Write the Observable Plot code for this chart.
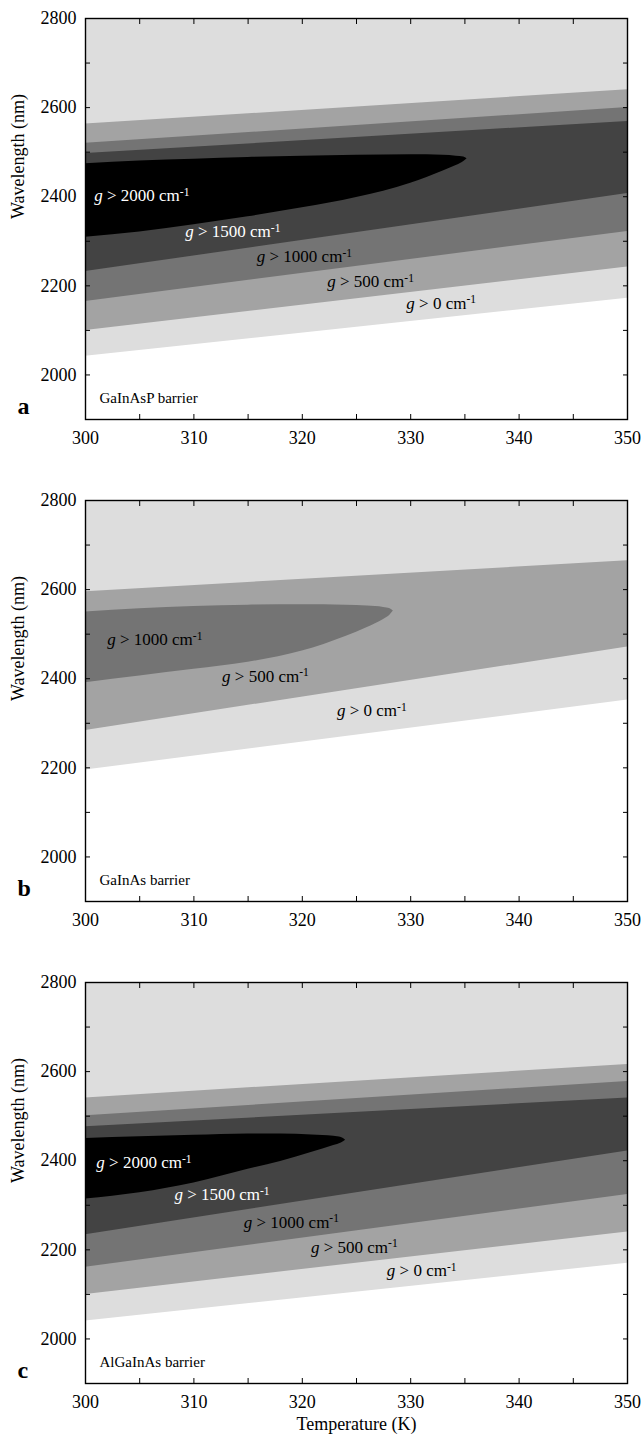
<!DOCTYPE html>
<html>
<head>
<meta charset="utf-8">
<script src="https://cdn.jsdelivr.net/npm/d3@7"></script>
<script src="https://cdn.jsdelivr.net/npm/@observablehq/plot@0.6"></script>
<style>
  body { margin: 0; background: #fff; width: 644px; }
  #chart svg { display: block; }
</style>
</head>
<body>
<div id="chart"></div>
<script>
// ---------- axes ----------
const xDomain = [300, 350];
const yDomain = [1900, 2800];
const xTicks = [300, 305, 310, 315, 320, 325, 330, 335, 340, 345, 350];
const yTicks = [1900, 2000, 2100, 2200, 2300, 2400, 2500, 2600, 2700, 2800];

// temperatures at which the straight contour edges are read (K)
const edgeT = [300, 350];

// ---------- panel a : GaInAsP barrier (wavelength in nm at 300 K, 350 K) ----------
const a_g0_lo    = [2042, 2172];
const a_g500_lo  = [2100, 2242];
const a_g500_hi  = [2563, 2640];
const a_g1000_lo = [2165, 2322];
const a_g1000_hi = [2520, 2600];
const a_g1500_lo = [2232, 2407];
const a_g1500_hi = [2497, 2569];
const a_g2000_T  = [300, 305, 310, 315, 320, 325, 330, 333, 334.2, 334.9, 335.2];
const a_g2000_lo = [2309, 2321, 2337, 2355, 2375, 2398, 2430, 2458, 2470, 2479, 2485];
const a_g2000_hi = [2474, 2480, 2484, 2488, 2491, 2493, 2494, 2493, 2491, 2489, 2485];
const a_labelLevel = [2000, 1500, 1000, 500, 0];
const a_labelT     = [300.8, 309.2, 315.8, 322.3, 329.6];
const a_labelW     = [2403, 2321, 2265, 2210, 2161];

// ---------- panel b : GaInAs barrier ----------
const b_g0_lo    = [2195, 2352];
const b_g500_lo  = [2284, 2471];
const b_g500_hi  = [2595, 2665];
const b_g1000_T  = [300, 305, 310, 315, 320, 324, 326, 327.5, 328.1, 328.4];
const b_g1000_lo = [2391, 2406, 2421, 2437, 2462, 2495, 2515, 2533, 2543, 2552];
const b_g1000_hi = [2550, 2557, 2562, 2565, 2566, 2565, 2563, 2560, 2557, 2552];
const b_labelLevel = [1000, 500, 0];
const b_labelT     = [302.0, 312.6, 323.2];
const b_labelW     = [2488, 2406, 2329];

// ---------- panel c : AlGaInAs barrier ----------
const c_g0_lo    = [2040, 2170];
const c_g500_lo  = [2100, 2240];
const c_g500_hi  = [2541, 2616];
const c_g1000_lo = [2161, 2324];
const c_g1000_hi = [2501, 2578];
const c_g1500_lo = [2234, 2422];
const c_g1500_hi = [2476, 2541];
const c_g2000_T  = [300, 305, 310, 315, 318, 320.9, 322.9, 323.6, 324.0];
const c_g2000_lo = [2314, 2328, 2350, 2381, 2398, 2419, 2434, 2440, 2446];
const c_g2000_hi = [2450, 2454, 2457, 2460, 2460, 2458, 2455, 2452, 2446];
const c_labelLevel = [2000, 1500, 1000, 500, 0];
const c_labelT     = [301.0, 308.2, 314.6, 320.8, 327.8];
const c_labelW     = [2396, 2324, 2262, 2206, 2154];

// ---------- styling ----------
const levelFill = {0: "#dddddd", 500: "#a3a3a3", 1000: "#747474", 1500: "#434343", 2000: "#000000"};
const FONT = "'Liberation Serif', 'Times New Roman', Times, serif";

function rows(T, lo, hi) {
  return T.map((t, i) => ({t, lo: lo[i], hi: hi == null ? yDomain[1] : hi[i]}));
}

function panel(cfg) {
  const marks = [];
  for (const b of cfg.bands) {
    marks.push(Plot.areaY(rows(b.T || edgeT, b.lo, b.hi), {x: "t", y1: "lo", y2: "hi", fill: levelFill[b.level], curve: b.T ? "monotone-x" : "linear"}));
  }
  marks.push(Plot.frame({stroke: "black", strokeWidth: 1.4}));
  marks.push(Plot.axisX({anchor: "bottom", ticks: xTicks, tickSize: -5, tickPadding: 17,
    tickFormat: d => (d % 10 === 0 ? String(d) : ""), fontSize: 18, label: null}));
  marks.push(Plot.axisX({anchor: "top", ticks: xTicks, tickSize: -5, tickFormat: () => "", label: null}));
  marks.push(Plot.axisY({anchor: "left", ticks: yTicks, tickSize: -5, tickPadding: 14,
    tickFormat: d => (d % 200 === 0 ? String(d) : ""), fontSize: 18, label: null}));
  marks.push(Plot.axisY({anchor: "right", ticks: yTicks, tickSize: -5, tickFormat: () => "", label: null}));

  const labs = cfg.labelLevel.map((lv, i) => ({lv, t: cfg.labelT[i], w: cfg.labelW[i]}));
  marks.push(Plot.text(labs, {x: "t", y: "w", text: d => `g > ${d.lv} cm-1`, textAnchor: "start",
    fill: d => (d.lv >= 1500 ? "white" : "black"), fontSize: 17}));

  marks.push(Plot.text([cfg.barrier], {text: d => d, frameAnchor: "bottom-left", dx: 14, dy: -17, textAnchor: "start", fontSize: 15}));
  marks.push(Plot.text([cfg.letter], {text: d => d, frameAnchor: "bottom-left", dx: -68, dy: -6, fontSize: 24, fontWeight: "bold"}));
  marks.push(Plot.text(["Wavelength (nm)"], {text: d => d, frameAnchor: "left", dx: -67, rotate: -90, fontSize: 18}));
  if (cfg.last) {
    marks.push(Plot.text(["Temperature (K)"], {text: d => d, frameAnchor: "bottom", dy: 46, fontSize: 18}));
  }

  const svg = Plot.plot({
    width: 644,
    height: cfg.last ? 477 : 482,
    marginTop: 18,
    marginLeft: 85,
    marginRight: 17,
    marginBottom: cfg.last ? 58 : 63,
    x: {domain: xDomain},
    y: {domain: yDomain},
    style: {fontFamily: FONT, background: "white", color: "black", overflow: "visible"},
    marks
  });

  // italic g and superscript -1 in the contour labels
  const NS = "http://www.w3.org/2000/svg";
  svg.querySelectorAll("text").forEach(t => {
    const m = /^g > (\d+) cm-1$/.exec(t.textContent);
    if (!m) return;
    t.textContent = "";
    const g = document.createElementNS(NS, "tspan");
    g.setAttribute("font-style", "italic");
    g.textContent = "g";
    t.appendChild(g);
    t.appendChild(document.createTextNode(` > ${m[1]} cm`));
    const sup = document.createElementNS(NS, "tspan");
    sup.setAttribute("dy", "-0.45em");
    sup.setAttribute("font-size", "0.68em");
    sup.textContent = "-1";
    t.appendChild(sup);
  });
  return svg;
}

const root = document.getElementById("chart");
root.appendChild(panel({
  letter: "a", barrier: "GaInAsP barrier",
  bands: [
    {level: 0, lo: a_g0_lo, hi: null},
    {level: 500, lo: a_g500_lo, hi: a_g500_hi},
    {level: 1000, lo: a_g1000_lo, hi: a_g1000_hi},
    {level: 1500, lo: a_g1500_lo, hi: a_g1500_hi},
    {level: 2000, T: a_g2000_T, lo: a_g2000_lo, hi: a_g2000_hi}
  ],
  labelLevel: a_labelLevel, labelT: a_labelT, labelW: a_labelW
}));
root.appendChild(panel({
  letter: "b", barrier: "GaInAs barrier",
  bands: [
    {level: 0, lo: b_g0_lo, hi: null},
    {level: 500, lo: b_g500_lo, hi: b_g500_hi},
    {level: 1000, T: b_g1000_T, lo: b_g1000_lo, hi: b_g1000_hi}
  ],
  labelLevel: b_labelLevel, labelT: b_labelT, labelW: b_labelW
}));
root.appendChild(panel({
  letter: "c", barrier: "AlGaInAs barrier", last: true,
  bands: [
    {level: 0, lo: c_g0_lo, hi: null},
    {level: 500, lo: c_g500_lo, hi: c_g500_hi},
    {level: 1000, lo: c_g1000_lo, hi: c_g1000_hi},
    {level: 1500, lo: c_g1500_lo, hi: c_g1500_hi},
    {level: 2000, T: c_g2000_T, lo: c_g2000_lo, hi: c_g2000_hi}
  ],
  labelLevel: c_labelLevel, labelT: c_labelT, labelW: c_labelW
}));
</script>
</body>
</html>
